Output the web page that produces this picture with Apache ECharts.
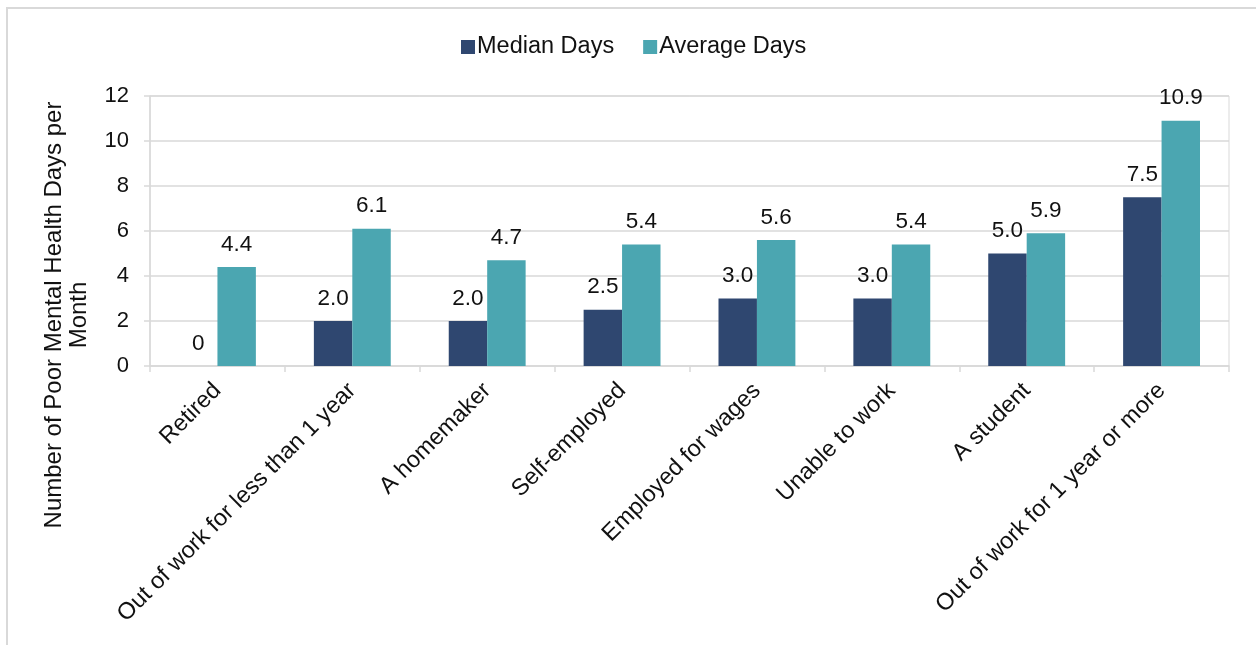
<!DOCTYPE html>
<html>
<head>
<meta charset="utf-8">
<script src="https://cdn.jsdelivr.net/npm/echarts@6/dist/echarts.min.js"></script>
<style>html,body{margin:0;padding:0;background:#fff}#c{width:1256px;height:645px}</style>
</head>
<body>
<div id="c"></div>
<script>
var categories = ['Retired', 'Out of work for less than 1 year', 'A homemaker', 'Self-employed', 'Employed for wages', 'Unable to work', 'A student', 'Out of work for 1 year or more'];
var medianDays = [0, 2.0, 2.0, 2.5, 3.0, 3.0, 5.0, 7.5];
var averageDays = [4.4, 6.1, 4.7, 5.4, 5.6, 5.4, 5.9, 10.9];
var yTicks = { min: 0, max: 12, interval: 2 };
var yTitle = 'Number of Poor Mental Health Days per\nMonth';

var FONT = 'Liberation Sans, Arial, sans-serif';
var chart = echarts.init(document.getElementById('c'), null, { renderer: 'canvas' });
function fmt(p) { return p.value === 0 ? '0' : p.value.toFixed(1); }
var labelCfg = { show: true, position: 'top', distance: 11, color: '#111', fontSize: 22.5, fontFamily: FONT, formatter: fmt };
chart.setOption({
  animation: false,
  backgroundColor: '#fff',
  graphic: [
    { type: 'rect', shape: { x: 7, y: 8, width: 1400, height: 800 }, style: { fill: 'none', stroke: '#d9d9d9', lineWidth: 2 }, z: -1 },
    { type: 'text', x: 67, y: 315, rotation: Math.PI / 2,
      style: { text: yTitle, fontSize: 24, fontFamily: FONT, fill: '#111', align: 'center', verticalAlign: 'middle', lineHeight: 25 } }
  ],
  legend: {
    top: 30, left: 456, itemWidth: 14, itemHeight: 14, itemGap: 29,
    icon: 'rect',
    textStyle: { fontSize: 23.5, fontFamily: FONT, color: '#111', padding: [0, 0, 0, -3] },
    data: ['Median Days', 'Average Days']
  },
  grid: { left: 150, right: 27, top: 96, bottom: 279, show: true, borderColor: '#d9d9d9', borderWidth: 1 },
  xAxis: {
    type: 'category', data: categories,
    axisLine: { lineStyle: { color: '#d9d9d9', width: 1.5 } },
    axisTick: { show: true, length: 6, lineStyle: { color: '#d9d9d9', width: 1.5 } },
    axisLabel: { rotate: 45, fontSize: 23.5, fontFamily: FONT, color: '#111', margin: 21, interval: 0 }
  },
  yAxis: {
    type: 'value', min: yTicks.min, max: yTicks.max, interval: yTicks.interval,
    axisLine: { show: true, lineStyle: { color: '#d9d9d9', width: 1.5 } },
    axisTick: { show: true, length: 6, lineStyle: { color: '#d9d9d9', width: 1.5 } },
    axisLabel: { fontSize: 22, fontFamily: FONT, color: '#111', margin: 21, padding: [5, 0, 0, 0] },
    splitLine: { lineStyle: { color: '#d9d9d9', width: 1.5 } }
  },
  series: [
    { name: 'Median Days', type: 'bar', data: medianDays, barGap: '0%', barCategoryGap: '43%',
      itemStyle: { color: '#2f4770' }, label: labelCfg },
    { name: 'Average Days', type: 'bar', data: averageDays, barGap: '0%', barCategoryGap: '43%',
      itemStyle: { color: '#4ba6b1' }, label: labelCfg }
  ]
});
</script>
</body>
</html>
